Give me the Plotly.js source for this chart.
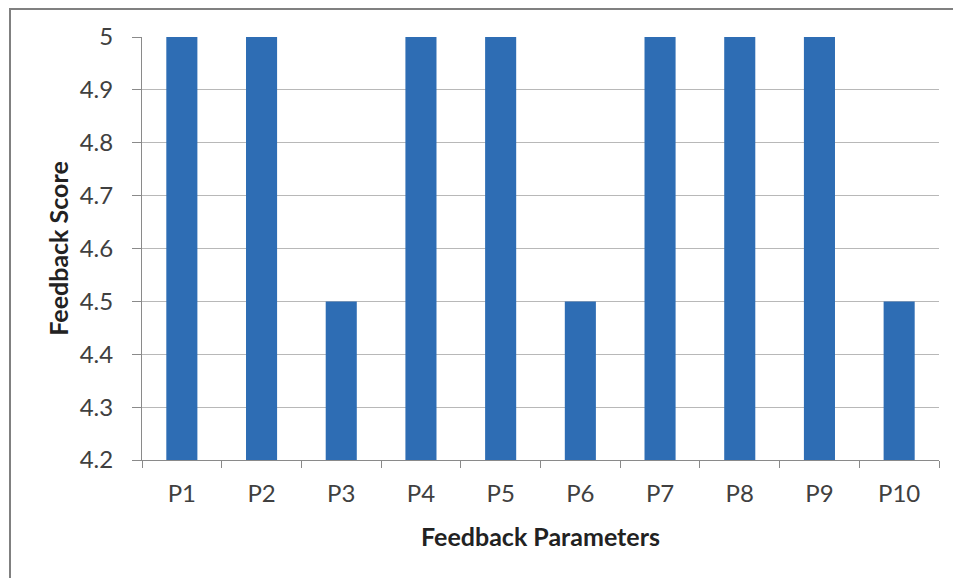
<!DOCTYPE html>
<html>
<head>
<meta charset="utf-8">
<script src="https://cdn.plot.ly/plotly-3.0.1.min.js"></script>
<style>
  html, body { margin: 0; padding: 0; background: #fff; }
  #wrap { position: relative; width: 953px; height: 578px; overflow: hidden; }
  #frame { position: absolute; left: 9px; top: 8px; width: 960px; height: 600px;
           border-left: 2px solid #808080; border-top: 2px solid #808080; box-sizing: border-box; pointer-events: none; }
  #chart { position: absolute; left: 0; top: 0; width: 953px; height: 578px; }
</style>
</head>
<body>
<div id="wrap">
  <div id="chart"></div>
  <div id="frame"></div>
</div>
<script>
const categories = ["P1", "P2", "P3", "P4", "P5", "P6", "P7", "P8", "P9", "P10"];
const scores = [5, 5, 4.5, 5, 5, 4.5, 5, 5, 5, 4.5];
const yTickValues = [4.2, 4.3, 4.4, 4.5, 4.6, 4.7, 4.8, 4.9, 5];
const xTitle = "Feedback Parameters";
const yTitle = "Feedback Score";

const fontFam = "Lato, 'Open Sans', sans-serif";

Plotly.newPlot("chart", [{
  type: "bar",
  x: categories,
  y: scores,
  marker: { color: "#2E6DB4" },
  hoverinfo: "x+y"
}], {
  width: 953, height: 578,
  margin: { l: 142, r: 14, t: 37, b: 118 },
  paper_bgcolor: "rgba(0,0,0,0)",
  plot_bgcolor: "#fff",
  bargap: 0.61,
  showlegend: false,
  font: { family: fontFam, color: "#404040" },
  xaxis: {
    type: "category",
    tickson: "boundaries",
    ticks: "outside", ticklen: 7, tickcolor: "#8a8a8a", tickwidth: 1,
    ticklabelstandoff: 12,
    showline: true, linecolor: "#8a8a8a", linewidth: 1,
    showgrid: false,
    tickfont: { size: 24, color: "#404040", family: fontFam },
    title: { text: xTitle, font: { size: 25, color: "#222", family: fontFam, weight: "bold" }, standoff: 22 }
  },
  yaxis: {
    range: [4.2, 5],
    tickvals: yTickValues,
    ticktext: yTickValues.map(v => String(v)),
    ticks: "outside", ticklen: 9, tickcolor: "#8a8a8a", tickwidth: 1,
    ticklabelstandoff: 14,
    showline: true, linecolor: "#8a8a8a", linewidth: 1,
    showgrid: true, gridcolor: "#b8b8b8", gridwidth: 1,
    zeroline: false,
    tickfont: { size: 24, color: "#404040", family: fontFam },
    title: { text: yTitle, font: { size: 25, color: "#222", family: fontFam, weight: "bold" }, standoff: 3 }
  }
}, { displayModeBar: false, staticPlot: true });
</script>
</body>
</html>
